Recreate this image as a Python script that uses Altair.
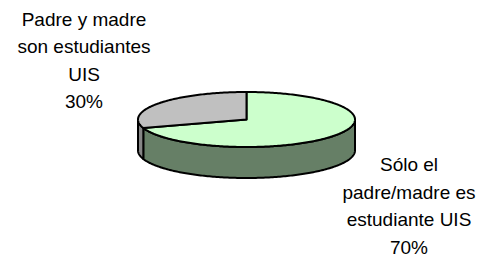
import numpy as np
import pandas as pd
import altair as alt

# ---- data ----
categories = ["Sólo el padre/madre es estudiante UIS", "Padre y madre son estudiantes UIS"]
shares = [70, 30]
label_lines = [
    ["Sólo el", "padre/madre es", "estudiante UIS", "70%"],
    ["Padre y madre", "son estudiantes", "UIS", "30%"],
]
top_colors = ["#CCFFCC", "#C0C0C0"]
side_colors = ["#667F66", "#868686"]

# ---- layout (plot-area pixel units) ----
W, H = 460, 240
CX, CY, RX, RY, DEPTH = 238.5, 111.5, 108.5, 27.5, 31
START = -90.0  # 12 o'clock, clockwise on screen
label_pos = [(401, 157), (76, 11.5)]  # centre x, first-line centre y
FONT = "Liberation Sans"
FS = 19
LH = 27.5


def arc_pts(a, b, dy=0.0):
    n = max(2, int(abs(b - a)) + 1)
    t = np.radians(np.linspace(a, b, n))
    return list(zip(CX + RX * np.cos(t), CY + RY * np.sin(t) + dy))


polys = []  # (points, fill, stage)
total = sum(shares)
a0 = START
for k, s in enumerate(shares):
    a1 = a0 + 360.0 * s / total
    # visible front wall: screen angles in [0,180] (+360 wraps)
    for off in (0, 360, -360):
        lo, hi = max(a0, 0 + off), min(a1, 180 + off)
        if hi > lo:
            pts = arc_pts(lo, hi) + arc_pts(hi, lo, DEPTH)
            polys.append((pts, side_colors[k], 0))
    pts = [(CX, CY)] + arc_pts(a0, a1)
    polys.append((pts, top_colors[k], 1))
    a0 = a1

xs = alt.Scale(domain=[0, W], nice=False, zero=False)
ys = alt.Scale(domain=[H, 0], nice=False, zero=False)

layers = []
for stage in (0, 1):
    for pid, (pts, col, st) in enumerate(polys):
        if st != stage:
            continue
        df = pd.DataFrame({"x": [p[0] for p in pts], "y": [p[1] for p in pts],
                           "i": list(range(len(pts)))})
        layers.append(
            alt.Chart(df).mark_line(
                fill=col, stroke="black", strokeWidth=2, interpolate="linear-closed",
                strokeJoin="round", clip=False
            ).encode(
                x=alt.X("x:Q", scale=xs, axis=None),
                y=alt.Y("y:Q", scale=ys, axis=None),
                order="i:Q",
            )
        )

lab_df = pd.DataFrame({
    "x": [p[0] for p in label_pos],
    "y": [p[1] for p in label_pos],
    "t": ["\n".join(l) for l in label_lines],
})
labels = alt.Chart(lab_df).mark_text(
    font=FONT, fontSize=FS, lineBreak="\n", lineHeight=LH, align="center",
    baseline="middle", color="black", clip=False
).encode(
    x=alt.X("x:Q", scale=xs, axis=None),
    y=alt.Y("y:Q", scale=ys, axis=None),
    text="t:N",
)

chart = alt.layer(*layers, labels).properties(
    width=W, height=H,
    padding={"left": 0, "top": 0, "right": 8, "bottom": 8},
    autosize=alt.AutoSizeParams(type="none"),
).configure(background="white").configure_view(stroke=None)

chart.save("out.html", embed_options={"renderer": "svg", "actions": False})
